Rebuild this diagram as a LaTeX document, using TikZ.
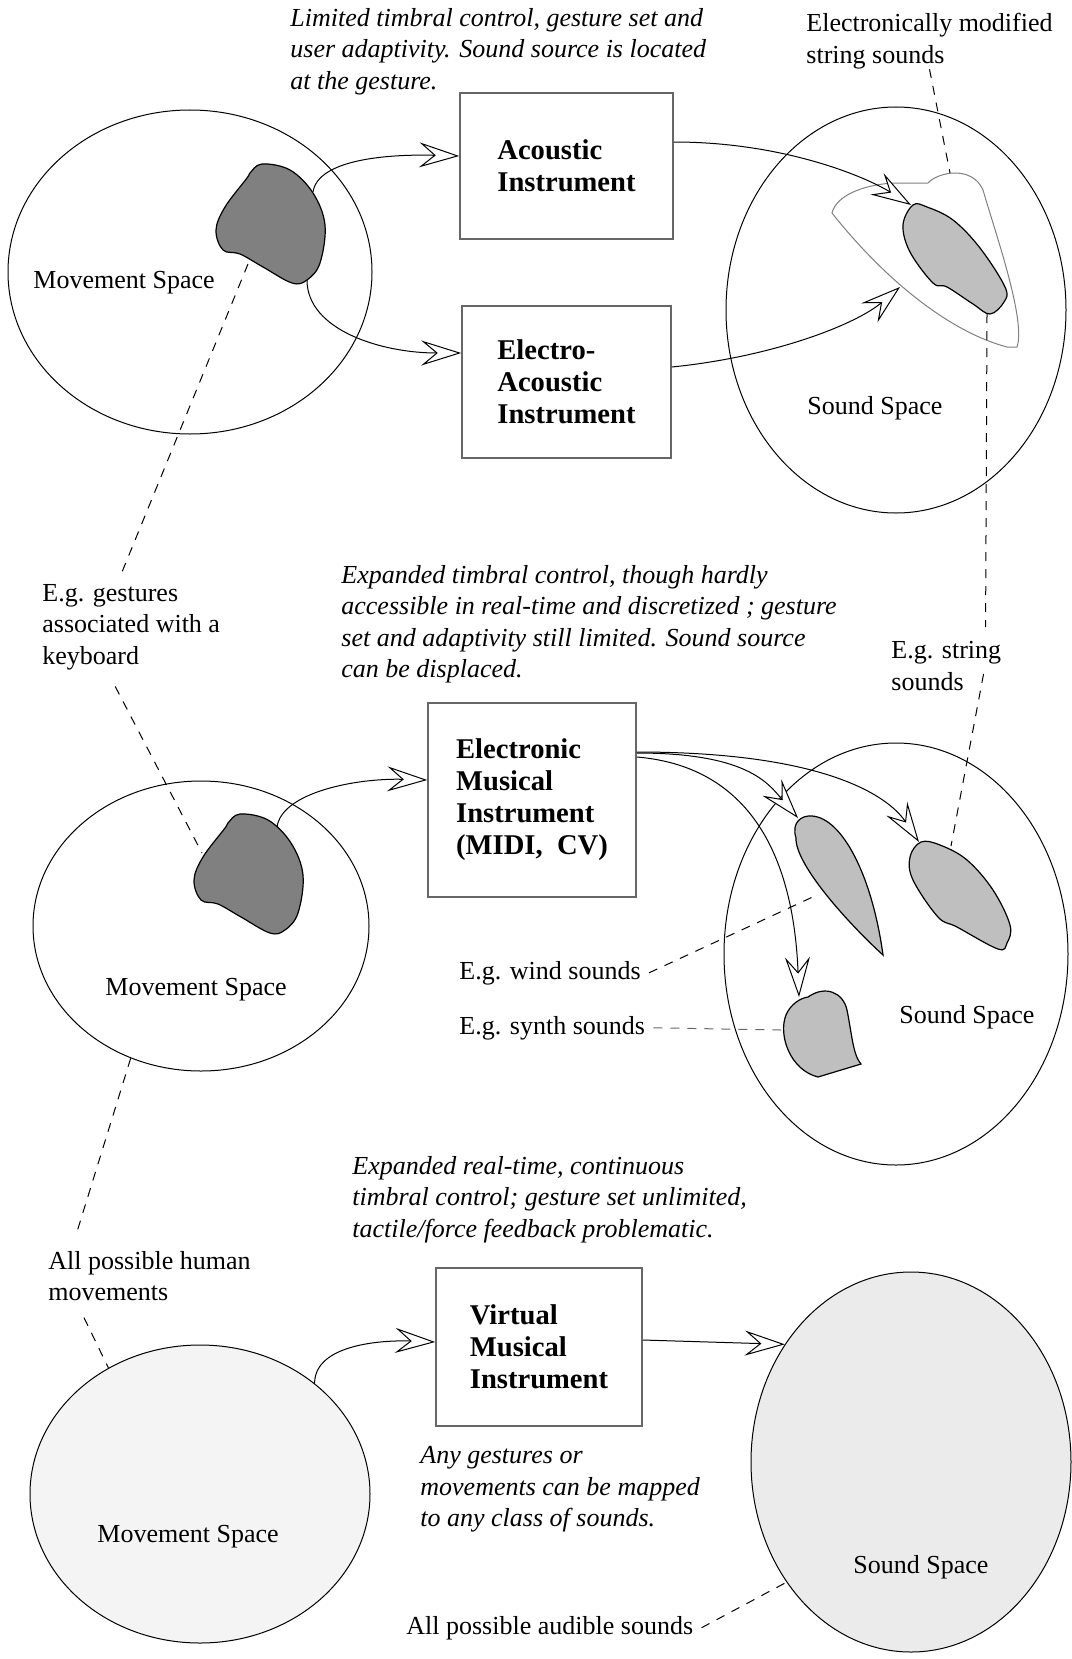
\documentclass[tikz,border=0pt]{standalone}
\usepackage{fontspec}
\setmainfont{Liberation Serif}
\usetikzlibrary{arrows.meta,shapes.geometric}

\definecolor{gesturegray}{gray}{0.5}
\definecolor{soundgray}{gray}{0.75}
\definecolor{movefill}{gray}{0.957}
\definecolor{soundfill}{gray}{0.922}

\begin{document}
\begin{tikzpicture}[x=0.5pt,y=-0.5pt,
	space/.style={draw, ellipse, inner sep=0pt, line width=0.5pt},
	instr/.style={draw=black!60, line width=0.8pt, align=left, inner sep=0pt, font=\fontsize{14.3}{16}\selectfont\bfseries},
	lbl/.style={inner sep=0pt, align=left, font=\fontsize{13}{15.75}\selectfont},
	note/.style={lbl, font=\fontsize{13}{15.75}\selectfont\itshape},
	arr/.style={line width=0.5pt, -{Stealth[open, fill=white, length=20pt, width=12.5pt, inset=7.5pt]}},
	link/.style={line width=0.5pt, dash pattern=on 4.5pt off 4pt},
	gesture/.style={draw, line width=0.6pt, fill=gesturegray},
	sound/.style={draw, line width=0.6pt, fill=soundgray},
	modreg/.style={draw=black!50, line width=0.5pt, fill=white}]
	\path[use as bounding box, fill=white] (0,0) rectangle (1071,1659);

	\node[space, minimum width=182pt, minimum height=162pt] (ms1) at (190,272) {};
	\node[space, minimum width=170pt, minimum height=203pt] (ss1) at (896,310) {};
	\node[space, minimum width=168pt, minimum height=145pt] (ms2) at (201,926) {};
	\node[space, minimum width=172pt, minimum height=211pt] (ss2) at (896,954) {};
	\node[space, fill=movefill, minimum width=170pt, minimum height=149pt] (ms3) at (200,1494) {};
	\node[space, fill=soundfill, minimum width=160pt, minimum height=190pt] (ss3) at (911,1462) {};

	\node[instr, minimum width=106.5pt, minimum height=73pt] (ac) at (566.5,166) {Acoustic\\Instrument};
	\node[instr, minimum width=104.5pt, minimum height=76pt] (ea) at (566.5,382) {Electro-\\Acoustic\\Instrument};
	\node[instr, minimum width=104pt, minimum height=97pt] (emi) at (532,800) {Electronic\\Musical\\Instrument\\(MIDI,\ \ CV)};
	\node[instr, minimum width=103pt, minimum height=79pt] (vmi) at (539,1347) {Virtual\\Musical\\Instrument};

	\draw[modreg] (832,213) .. controls (836,196) and (862,185) .. (893,183) -- (928,183)
		.. controls (938,172) and (972,165) .. (983,190) .. controls (996,235) and (1026,320) .. (1017,347)
		-- (1007,347) .. controls (950,332) and (885,280) .. (832,213) -- cycle;
	\draw[gesture] plot[smooth cycle, tension=0.6] coordinates {(250,173) (262,164) (290,170) (313,193) (325,225) (320,263) (307,280) (292,283) (263,267) (240,254) (223,250) (216,230) (225,207) (247,178)};
	\begin{scope}[shift={(-22,650)}]
		\draw[gesture] plot[smooth cycle, tension=0.6] coordinates {(250,173) (262,164) (290,170) (313,193) (325,225) (320,263) (307,280) (292,283) (263,267) (240,254) (223,250) (216,230) (225,207) (247,178)};
	\end{scope}
	\draw[sound] plot[smooth cycle, tension=0.6] coordinates {(913,205) (927,207) (953,220) (980,248) (1005,287) (1004,302) (990,314) (973,304) (947,287) (933,283) (910,252) (903,225)};
	\draw[sound] plot[smooth cycle, tension=0.6] coordinates {(921,842) (940,845) (967,860) (993,890) (1010,925) (1007,943) (998,949) (957,927) (938,917) (913,880) (910,857)};
	\draw[sound] (883,955) .. controls (850,925) and (795,865) .. (796,838) .. controls (791,822) and (802,815) .. (812,816)
		.. controls (842,818) and (872,875) .. (883,955) -- cycle;
	\draw[sound] (818,1077) .. controls (790,1070) and (778,1035) .. (786,1015) .. controls (790,1005) and (800,998) .. (808,997)
		.. controls (825,985) and (843,992) .. (847,1010) .. controls (852,1035) and (853,1055) .. (861,1064) -- cycle;

	\coordinate (g1a) at (313,192);
	\coordinate (g1b) at (307,280);
	\coordinate (g1c) at (248,264);
	\coordinate (g2a) at (277,827);
	\coordinate (g2b) at (202,853);
	\coordinate (sb1a) at (911,205);
	\coordinate (sb1c) at (987,314);
	\coordinate (moda) at (900,287);
	\coordinate (modb) at (950,173);
	\coordinate (wba) at (798,818);
	\coordinate (wbb) at (817,895);
	\coordinate (stba) at (919,842);
	\coordinate (stbb) at (951,846);
	\coordinate (syba) at (799,997);
	\coordinate (sybb) at (781,1030);

	\node[note, anchor=north west] (lim) at (290,8) {Limited timbral control, gesture set and\\user adaptivity. Sound source is located\\at the gesture.};
	\node[lbl, anchor=north west] (ems) at (806,13) {Electronically modified\\string sounds};
	\node[lbl] (msl1) at (124,283) {Movement Space};
	\node[lbl] (ssl1) at (875,408) {Sound Space};
	\node[lbl, anchor=north west] (egl) at (42,584) {E.g. gestures\\associated with a\\keyboard};
	\node[note, anchor=north west] (exp1) at (341,565) {Expanded timbral control, though hardly\\accessible in real-time and discretized ; gesture\\set and adaptivity still limited. Sound source\\can be displaced.};
	\node[lbl, anchor=north west] (strl) at (891,641) {E.g. string\\sounds};
	\node[lbl] (msl2) at (196,990) {Movement Space};
	\node[lbl] (ssl2) at (967,1017) {Sound Space};
	\node[lbl, anchor=base west] (wind) at (459,979) {E.g. wind sounds};
	\node[lbl, anchor=base west] (synth) at (459,1034) {E.g. synth sounds};
	\node[note, anchor=north west] (exp2) at (352,1156) {Expanded real-time, continuous\\timbral control; gesture set unlimited,\\tactile/force feedback problematic.};
	\node[lbl, anchor=north west] (aph) at (48,1251) {All possible human\\movements};
	\node[note, anchor=north west] (anyg) at (420,1446) {Any gestures or\\movements can be mapped\\to any class of sounds.};
	\node[lbl, anchor=base west] (aas) at (406,1634) {All possible audible sounds};
	\node[lbl] (msl3) at (188,1537) {Movement Space};
	\node[lbl] (ssl3) at (921,1567) {Sound Space};

	\draw[arr] (g1a) .. controls +(5,-33) and +(-70,-2) .. ([yshift=5pt]ac.west);
	\draw[arr] (g1b) .. controls +(0,50) and +(-80,0) .. ([yshift=14.5pt]ea.west);
	\draw[arr] ([yshift=12pt]ac.east) .. controls +(110,0) and +(-45,-28) .. (sb1a);
	\draw[arr] ([yshift=7.5pt]ea.east) .. controls +(100,-10) and +(-45,38) .. (moda);
	\draw[arr] (g2a) .. controls +(5,-35) and +(-70,-2) .. ([yshift=10pt]emi.west);
	\draw[arr] ([yshift=24pt]emi.east) .. controls +(190,0) and +(-30,-45) .. (stba);
	\draw[arr] ([yshift=23.5pt]emi.east) .. controls +(110,0) and +(-30,-35) .. (wba);
	\draw[arr] ([yshift=21.5pt]emi.east) .. controls +(120,10) and +(-5,-130) .. (syba);
	\draw[arr] (ms3.44) .. controls +(0,-40) and +(-50,-2) .. ([yshift=2.5pt]vmi.west);
	\draw[arr] ([yshift=3.5pt]vmi.east) -- (ss3.137);

	\draw[link] (ems.south) -- (modb);
	\draw[link] (sb1c) -- ([xshift=-8pt,yshift=7pt]strl.north east);
	\draw[link] ([xshift=-9pt,yshift=-4pt]strl.east) -- (stbb);
	\draw[link] (g1c) -- ([xshift=-5pt,yshift=5pt]egl.north);
	\draw[link] ([xshift=-8pt,yshift=-8pt]egl.south) -- (g2b);
	\draw[link] (ms2.242) -- ([xshift=14pt,yshift=8pt]aph.north west);
	\draw[link] ([xshift=18pt,yshift=-8pt]aph.south west) -- (ms3.126);
	\draw[link] ([xshift=4pt]wind.east) -- (wbb);
	\draw[link, draw=black!60] ([xshift=4pt]synth.east) -- (sybb);
	\draw[link] ([xshift=4pt]aas.east) -- (ss3.224);
\end{tikzpicture}
\end{document}
